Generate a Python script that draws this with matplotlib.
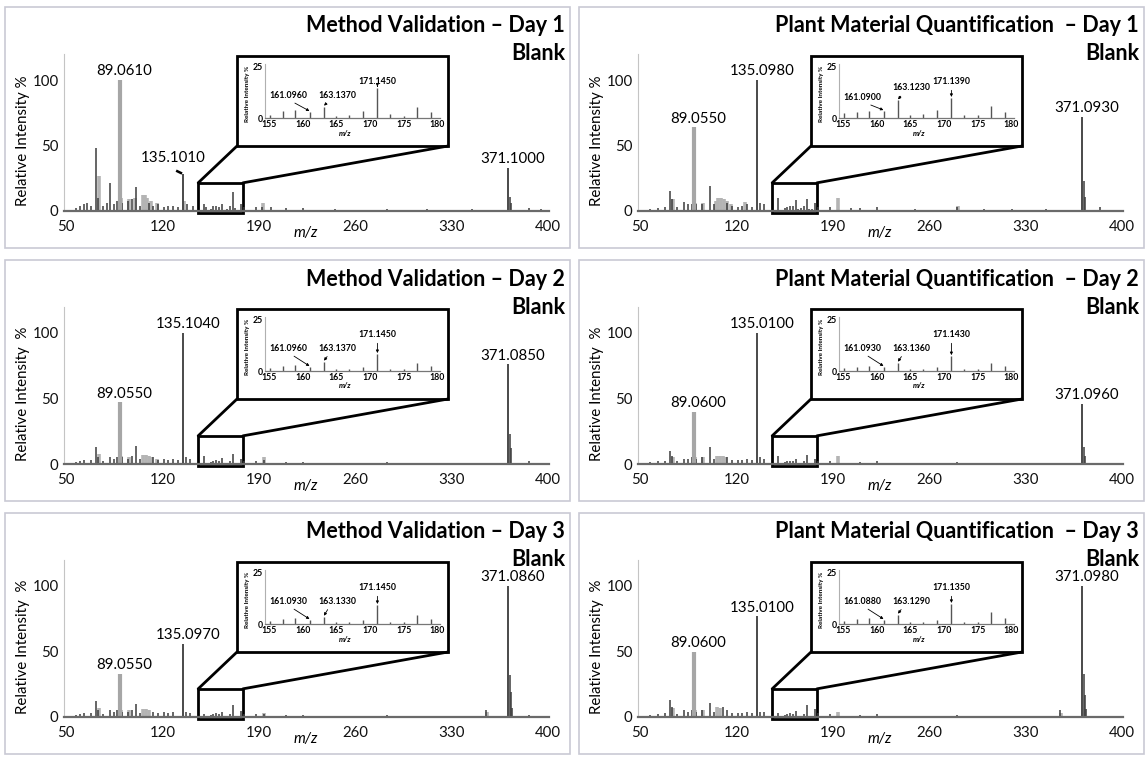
"""Six blank mass spectra (method validation / plant material, days 1-3) with zoom insets."""
import matplotlib
matplotlib.use("Agg")
import matplotlib.pyplot as plt
from matplotlib.patches import Rectangle, ConnectionPatch

plt.rcParams["font.family"] = ["Lato", "DejaVu Sans"]

# --- Panel text (row-major: MV D1, PMQ D1, MV D2, PMQ D2, MV D3, PMQ D3) ---
titles = [
    "Method Validation \u2013 Day 1", "Plant Material Quantification  \u2013 Day 1",
    "Method Validation \u2013 Day 2", "Plant Material Quantification  \u2013 Day 2",
    "Method Validation \u2013 Day 3", "Plant Material Quantification  \u2013 Day 3",
]
ylabels = ["Relative Intensity %", "Relative Intensity %",
           "Relative Intensity  %", "Relative Intensity  %",
           "Relative Intensity  %", "Relative Intensity  %"]

# --- Main labelled peaks (m/z 89, 135, 371) ---
major_mz = [89.06, 135.1, 371.1]
major_int = [
    [100, 28, 33],
    [64, 100, 72],
    [47, 100, 76],
    [40, 100, 46],
    [33, 56, 100],
    [50, 77, 100],
]
major_lbl = [
    ["89.0610", "135.1010", "371.1000"],
    ["89.0550", "135.0980", "371.0930"],
    ["89.0550", "135.1040", "371.0850"],
    ["89.0600", "135.0100", "371.0960"],
    ["89.0550", "135.0970", "371.0860"],
    ["89.0600", "135.0100", "371.0980"],
]

# --- Minor peaks, dark (thin) ---
dark_mz = [
    [57, 60, 63, 65, 68, 72, 73, 77, 80, 82, 85, 87, 91, 95, 98, 101, 104, 110, 113, 117,
     121, 124, 128, 131, 138, 142, 150, 152, 188, 192, 199, 210, 222, 245, 283, 312, 345,
     372.1, 373.1, 386, 395],
    [57, 63, 68, 72, 73, 77, 82, 85, 88, 91, 95, 100.5, 104, 113, 117, 121, 124, 128, 131,
     137, 140, 150, 188, 203, 210, 222, 250, 280, 300, 320, 345, 372.1, 373.1, 384, 395],
    [57, 60, 63, 68, 72, 73, 77, 82, 85, 87, 91, 95, 98, 100.5, 104, 113, 117, 121, 124,
     128, 131, 137, 140, 150, 188, 194, 210, 222, 250, 283, 312, 345, 372.1, 373.1, 386, 395],
    [57, 63, 68, 72, 73, 77, 82, 85, 88, 91, 95, 100.5, 104, 113, 117, 121, 124, 128, 131,
     137, 140, 150, 188, 210, 222, 250, 280, 300, 320, 345, 372.1, 373.1, 395],
    [57, 60, 63, 68, 72, 73, 77, 82, 85, 87, 91, 95, 98, 100.5, 104, 113, 117, 121, 124,
     128, 137, 140, 150, 188, 194, 210, 222, 250, 283, 312, 355, 372.1, 373.1, 374, 386, 395],
    [57, 63, 68, 72, 73, 77, 82, 85, 88, 91, 95, 100.5, 104, 110, 113, 117, 121, 124, 128,
     131, 137, 140, 150, 188, 210, 222, 250, 280, 300, 320, 355, 372.1, 373.1, 374, 395],
]
dark_int = [
    [2, 4, 5, 6, 4, 48, 10, 4, 6, 21, 5, 8, 6, 8, 9, 18, 4, 6, 4, 5,
     3, 4, 4, 3, 5, 4, 5, 3, 3, 3, 3, 2, 2, 1.5, 1.5, 1.5, 1.5,
     11, 6, 2, 1.5],
    [1.5, 2, 3, 15, 9, 3, 7, 5, 5, 5, 5, 19, 5, 6, 4, 3, 4, 5, 3,
     6, 5, 10, 3, 2, 2, 3, 1.5, 3, 1.5, 1.5, 1.5, 23, 11, 3, 1],
    [1.5, 2, 3, 3, 13, 5, 2, 5, 4, 5, 5, 4, 6, 14, 4, 5, 3, 4, 3,
     4, 3, 5, 4, 6, 2, 3, 1.5, 1.5, 1, 1.5, 1, 1, 23, 12, 2, 1],
    [1.5, 2, 2, 10, 6, 2, 4, 4, 5, 4, 5, 13, 4, 5, 3, 3, 3, 4, 3,
     5, 4, 6, 2, 1.5, 2, 1, 1.5, 1, 1, 1, 13, 6, 1],
    [1.5, 2, 3, 3, 12, 5, 2, 5, 4, 5, 4, 4, 5, 10, 3, 4, 3, 4, 3,
     4, 4, 3, 2, 2, 2.5, 1.5, 1.5, 1, 1.5, 1, 5, 32, 19, 7, 1.5, 1],
    [1.5, 2, 3, 13, 8, 2, 5, 4, 5, 4, 5, 11, 4, 8, 5, 3, 3, 3, 4,
     3, 4, 4, 3, 2, 1.5, 2, 1, 1.5, 1, 1, 5, 33, 17, 6, 1],
]

# --- Minor peaks, light grey (broad) ---
gray_mz = [
    [74, 90, 96, 100, 106, 107.5, 109, 112, 116, 135.8, 193],
    [74, 90, 96, 105, 107, 109, 111, 113, 116, 126, 193.5, 281],
    [74, 90, 96, 106, 108, 110, 112, 116, 193.5],
    [74, 90, 96, 106, 108, 110, 112, 193.5],
    [74, 90, 96, 106, 108, 110, 193.5, 356],
    [74, 90, 96, 106, 108, 193.5, 356],
]
gray_int = [
    [27, 10, 9, 10, 12, 12, 10, 8, 6, 8, 6],
    [9, 6, 6, 8, 10, 10, 9, 8, 5, 7, 10, 4],
    [8, 6, 5, 7, 7, 6, 5, 4, 5],
    [5, 5, 5, 6, 6, 6, 5, 6],
    [7, 5, 5, 6, 6, 5, 3, 4],
    [7, 5, 5, 8, 7, 4, 3],
]

# --- Zoomed region m/z 155-180 ---
inset_mz = [155.2, 157.0, 158.9, 161.1, 163.1, 165.0, 166.9, 169.0, 171.1, 173.0, 175.0, 177.0, 179.0]
inset_int = [
    [1.5, 3.5, 4, 3, 5.5, 1, 1.5, 3.5, 14.5, 2, 1, 5.5, 3],
    [2.5, 3, 3.5, 3.5, 8.5, 1.5, 2, 4, 9.5, 1.5, 1.5, 6, 3],
    [1.5, 2.5, 3, 2, 4.5, 1, 1, 2, 8, 1, 1, 4, 2.5],
    [1.5, 2, 2.5, 2, 4, 1, 1, 2, 7, 1, 1, 4, 2.5],
    [1.5, 2.5, 3, 2, 3.5, 1, 1, 2, 9, 1, 1, 4.5, 2.5],
    [1.5, 2.5, 3, 2, 4.5, 1, 1, 2, 9.5, 1, 1, 6, 3],
]
inset_lbl = [
    ["161.0960", "163.1370", "171.1450"],
    ["161.0900", "163.1230", "171.1390"],
    ["161.0960", "163.1370", "171.1450"],
    ["161.0930", "163.1360", "171.1430"],
    ["161.0930", "163.1330", "171.1450"],
    ["161.0880", "163.1290", "171.1350"],
]

W, H = 1148, 758
PW, PH = 574, 253


def fx(px):
    return px / W


def fy(py):
    return 1 - py / H


def box(x0, y0, x1, y1):
    return [x0 / W, 1 - y1 / H, (x1 - x0) / W, (y1 - y0) / H]


fig = plt.figure(figsize=(W / 100, H / 100), dpi=100)
fig.patch.set_facecolor("white")

for i in range(6):
    r, c = divmod(i, 2)
    ox, oy = c * PW, r * PH

    # panel frame
    fig.add_artist(Rectangle((fx(ox + 5), fy(oy + 248)), 565 / W, 241 / H,
                             transform=fig.transFigure, fill=False, ec="#c9c9d4", lw=1.2))

    # --- main spectrum ---
    ax = fig.add_axes(box(ox + 64.3, oy + 53.8, ox + 548.7, oy + 211))
    ax.vlines(gray_mz[i], 0, gray_int[i], colors="#b4b4b4", lw=2.6)
    ax.vlines(dark_mz[i], 0, dark_int[i], colors="#3c3c3c", lw=1.1)
    ax.vlines(inset_mz, 0, inset_int[i], colors="#3c3c3c", lw=1.1)
    ax.vlines(major_mz[0], 0, major_int[i][0], colors="#a6a6a6", lw=3.0)
    ax.vlines(major_mz[1:], 0, major_int[i][1:], colors="#4a4a4a", lw=1.4)
    ax.set_xlim(48.8, 400.5)
    ax.set_ylim(0, 120)
    ax.set_xticks([50, 120, 190, 260, 330, 400])
    ax.set_yticks([0, 50, 100])
    ax.tick_params(length=0, labelsize=10.8, colors="#111111")
    ax.tick_params(axis="x", pad=6.5)
    ax.tick_params(axis="y", pad=4)
    for s in ("top", "right"):
        ax.spines[s].set_visible(False)
    ax.spines["left"].set_color("#c4c4c4")
    ax.spines["bottom"].set_color("#6a6a6a")
    ax.spines["bottom"].set_linewidth(1.6)
    ax.patch.set_alpha(0)

    for k in range(3):
        if i == 0 and k == 1:
            # label shifted left with a short leader
            ax.text(127.7, 35, major_lbl[i][k], ha="center", va="bottom", fontsize=10.8)
            ax.plot([130, 134.3], [30.8, 28.6], color="black", lw=1.8, solid_capstyle="butt")
        else:
            ax.text(major_mz[k] + 3.5, major_int[i][k] + 1.2, major_lbl[i][k],
                    ha="center", va="bottom", fontsize=10.8)

    # zoom box on the spectrum
    ax.add_patch(Rectangle((146, -1.5), 32.5, 23, fill=False, ec="black", lw=2, clip_on=False))

    # titles and axis labels
    fig.text(fx(ox + 565), fy(oy + 26), titles[i], ha="right", va="center",
             fontsize=15.5, fontweight="bold")
    fig.text(fx(ox + 565), fy(oy + 54), "Blank", ha="right", va="center",
             fontsize=15.5, fontweight="bold")
    fig.text(fx(ox + 23), fy(oy + 141), ylabels[i], rotation=90, ha="center", va="center",
             fontsize=10.8)
    fig.text(fx(ox + 306), fy(oy + 233), "m/z", style="italic", ha="center", va="center",
             fontsize=10.8)

    # --- inset frame and connectors ---
    fig.add_artist(Rectangle((fx(ox + 237), fy(oy + 146)), 211 / W, 90 / H,
                             transform=fig.transFigure, fill=False, ec="black", lw=2))
    for xa, xb in ((146, ox + 237), (178.5, ox + 448)):
        con = ConnectionPatch(xyA=(xa, 21.5), coordsA=ax.transData,
                              xyB=(fx(xb), fy(oy + 146)), coordsB=fig.transFigure,
                              color="black", lw=2)
        fig.add_artist(con)

    # --- inset spectrum ---
    ins = fig.add_axes(box(ox + 265, oy + 64, ox + 440, oy + 118))
    ins.vlines(inset_mz, 0, inset_int[i], colors="#555555", lw=1.0)
    ins.set_xlim(154.4, 180.4)
    ins.set_ylim(0, 26)
    ins.set_xticks([155, 160, 165, 170, 175, 180])
    ins.set_yticks([0, 25])
    ins.tick_params(length=0, labelsize=6.3, pad=1.5)
    ins.tick_params(axis="y", pad=1.5)
    for lab in ins.get_xticklabels() + ins.get_yticklabels():
        lab.set_fontweight("bold")
    for s in ("top", "right"):
        ins.spines[s].set_visible(False)
    ins.spines["left"].set_color("#b0b0b0")
    ins.spines["left"].set_linewidth(0.8)
    ins.spines["bottom"].set_color("#777777")
    ins.spines["bottom"].set_linewidth(0.9)
    ins.patch.set_alpha(0)

    # label heights (PMQ Day 1 has its 163 label raised)
    y161, y163 = (10, 14.5) if i == 1 else (11, 11)
    arrow = dict(arrowstyle="-|>", color="black", lw=0.6, mutation_scale=4, shrinkA=1, shrinkB=0.5)
    ins.annotate(inset_lbl[i][0], xy=(161.1, inset_int[i][3] + 0.2), xytext=(157.9, y161),
                 ha="center", va="center", fontsize=6.3, fontweight="bold",
                 arrowprops=dict(arrow, relpos=(0.5, 0)))
    ins.annotate(inset_lbl[i][1], xy=(163.1, inset_int[i][4] + 0.2), xytext=(165.2, y163),
                 ha="center", va="center", fontsize=6.3, fontweight="bold",
                 arrowprops=dict(arrow, relpos=(0.3, 0)))
    ins.annotate(inset_lbl[i][2], xy=(171.1, inset_int[i][8] + 0.3), xytext=(171.1, 17.5),
                 ha="center", va="center", fontsize=6.3, fontweight="bold",
                 arrowprops=dict(arrow, relpos=(0.5, 0)))

    fig.text(fx(ox + 248), fy(oy + 94), "Relative Intensity %", rotation=90, ha="center",
             va="center", fontsize=4.6, fontweight="bold")
    fig.text(fx(ox + 345), fy(oy + 133), "m/z", style="italic", fontweight="bold",
             ha="center", va="center", fontsize=5.5)

fig.savefig("out.png", dpi=100, facecolor="white")
